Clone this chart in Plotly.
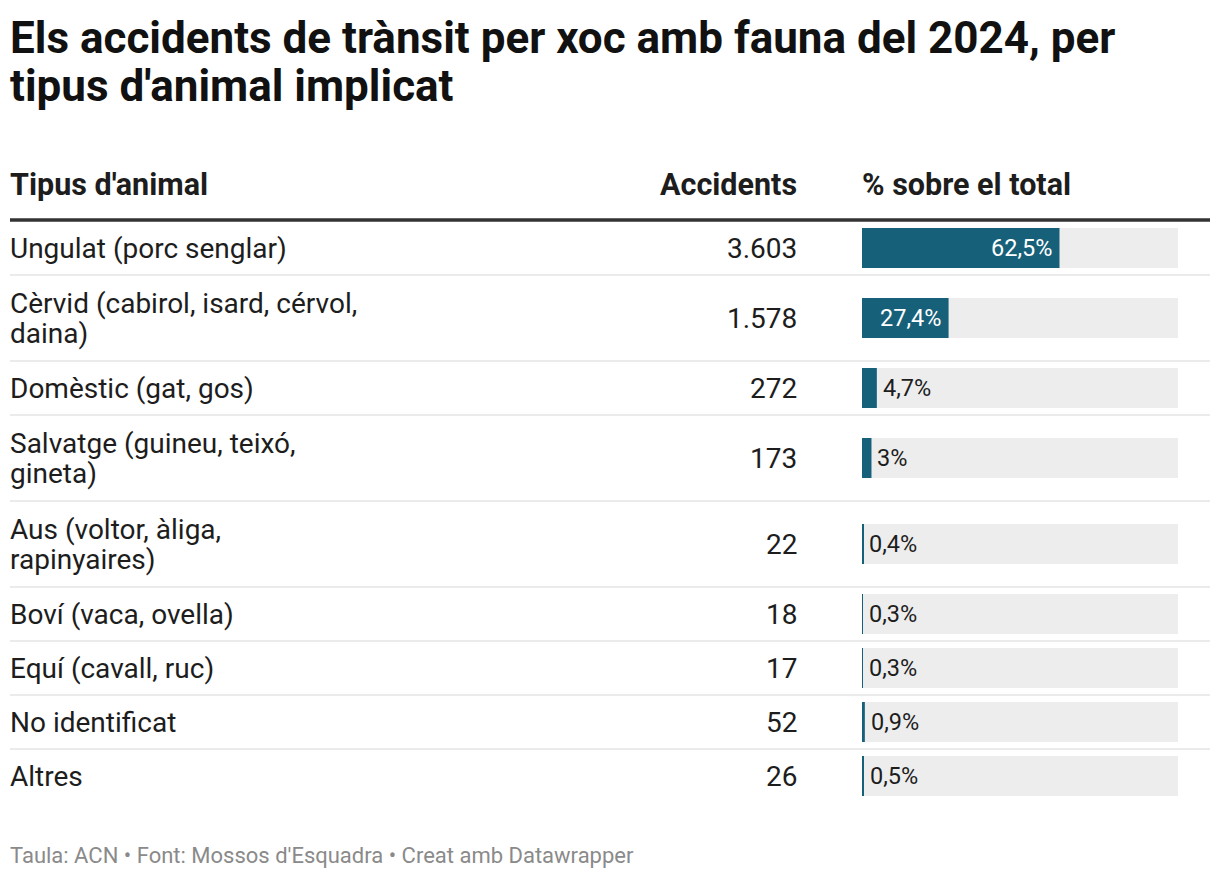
import plotly.graph_objects as go

# Datos de la tabla
animals = [
    "Ungulat (porc senglar)",
    "Cèrvid (cabirol, isard, cérvol,<br>daina)",
    "Domèstic (gat, gos)",
    "Salvatge (guineu, teixó,<br>gineta)",
    "Aus (voltor, àliga,<br>rapinyaires)",
    "Boví (vaca, ovella)",
    "Equí (cavall, ruc)",
    "No identificat",
    "Altres",
]
accidents = [3603, 1578, 272, 173, 22, 18, 17, 52, 26]
pct = [62.5, 27.4, 4.7, 3.0, 0.4, 0.3, 0.3, 0.9, 0.5]

title_lines = ["Els accidents de trànsit per xoc amb fauna del 2024, per",
               "tipus d'animal implicat"]
headers = ["Tipus d'animal", "Accidents", "% sobre el total"]
footer = "Taula: ACN • Font: Mossos d'Esquadra • Creat amb Datawrapper"

W, H = 1220, 878
TEXT = "#1d1d1d"
BLUE = "#17607a"
BODY = 28
LINE = 30


def fmt_int(n):
    return f"{n:,}".replace(",", ".")


def fmt_pct(v):
    s = f"{v:.1f}".replace(".", ",")
    if s.endswith(",0"):
        s = s[:-2]
    return s + "%"


# Alçada de cada fila segons el nombre de línies
top = 221
heights = [86 if "<br>" in a else 54 for a in animals]
centers, edges = [], []
y = top
for h in heights:
    centers.append(y + h / 2)
    y += h
    edges.append(y)

fig = go.Figure()
fig.add_trace(go.Bar(
    x=[100] * len(pct), y=centers, orientation="h", width=40,
    marker=dict(color="#ededed", line_width=0), hoverinfo="skip",
))
fig.add_trace(go.Bar(
    x=pct, y=centers, orientation="h", width=40,
    marker=dict(color=BLUE, line_width=0), hoverinfo="skip",
))

# Etiquetes de les barres
for v, c in zip(pct, centers):
    big = v >= 10
    fig.add_annotation(x=v, y=c, xref="x", yref="y", text=fmt_pct(v),
                       xanchor="right" if big else "left", yanchor="middle",
                       xshift=-6 if big else 4, showarrow=False,
                       font=dict(size=23.5, color="white" if big else TEXT))

# Columnes de text
for name, n, c in zip(animals, accidents, centers):
    parts = name.split("<br>")
    off = -(len(parts) - 1) * LINE / 2
    for i, p in enumerate(parts):
        fig.add_annotation(x=8 / W, y=c + off + i * LINE, xref="paper", yref="y", text=p,
                           xanchor="left", yanchor="middle", align="left",
                           showarrow=False, font=dict(size=BODY, color=TEXT))
    fig.add_annotation(x=799 / W, y=c, xref="paper", yref="y", text=fmt_int(n),
                       xanchor="right", yanchor="middle", align="right",
                       showarrow=False, font=dict(size=BODY, color=TEXT))

# Títol
for i, t in enumerate(title_lines):
    fig.add_annotation(x=8 / W, y=38 + i * 48, xref="paper", yref="y", text=f"<b>{t}</b>",
                       xanchor="left", yanchor="middle", showarrow=False,
                       font=dict(size=44, color="#111111"))

# Capçalera
hy = 184
for txt, x, anchor in zip(headers, [8, 799, 860], ["left", "right", "left"]):
    fig.add_annotation(x=x / W, y=hy, xref="paper", yref="y", text=f"<b>{txt}</b>",
                       xanchor=anchor, yanchor="middle", showarrow=False,
                       font=dict(size=30.5, color=TEXT))

fig.add_annotation(x=8 / W, y=855, xref="paper", yref="y", text=footer,
                   xanchor="left", yanchor="middle", showarrow=False,
                   font=dict(size=22, color="#8a8a8a"))

# Línies de la taula
fig.add_shape(type="line", xref="paper", yref="y", x0=10 / W, x1=1210 / W,
              y0=220, y1=220, line=dict(color="#333333", width=3.5))
for e in edges[:-1]:
    fig.add_shape(type="line", xref="paper", yref="y", x0=10 / W, x1=1210 / W,
                  y0=e, y1=e, line=dict(color="#ebebeb", width=2))

fig.update_layout(
    width=W, height=H,
    margin=dict(l=0, r=0, t=0, b=0),
    paper_bgcolor="white", plot_bgcolor="white",
    font=dict(family="Roboto", color=TEXT),
    barmode="overlay", showlegend=False,
    xaxis=dict(domain=[862 / W, 1178 / W], range=[0, 100], visible=False, fixedrange=True),
    yaxis=dict(range=[H, 0], visible=False, fixedrange=True),
)

fig.write_html("out.html", config={"displayModeBar": False},
               post_script="document.body.style.margin='0';")
